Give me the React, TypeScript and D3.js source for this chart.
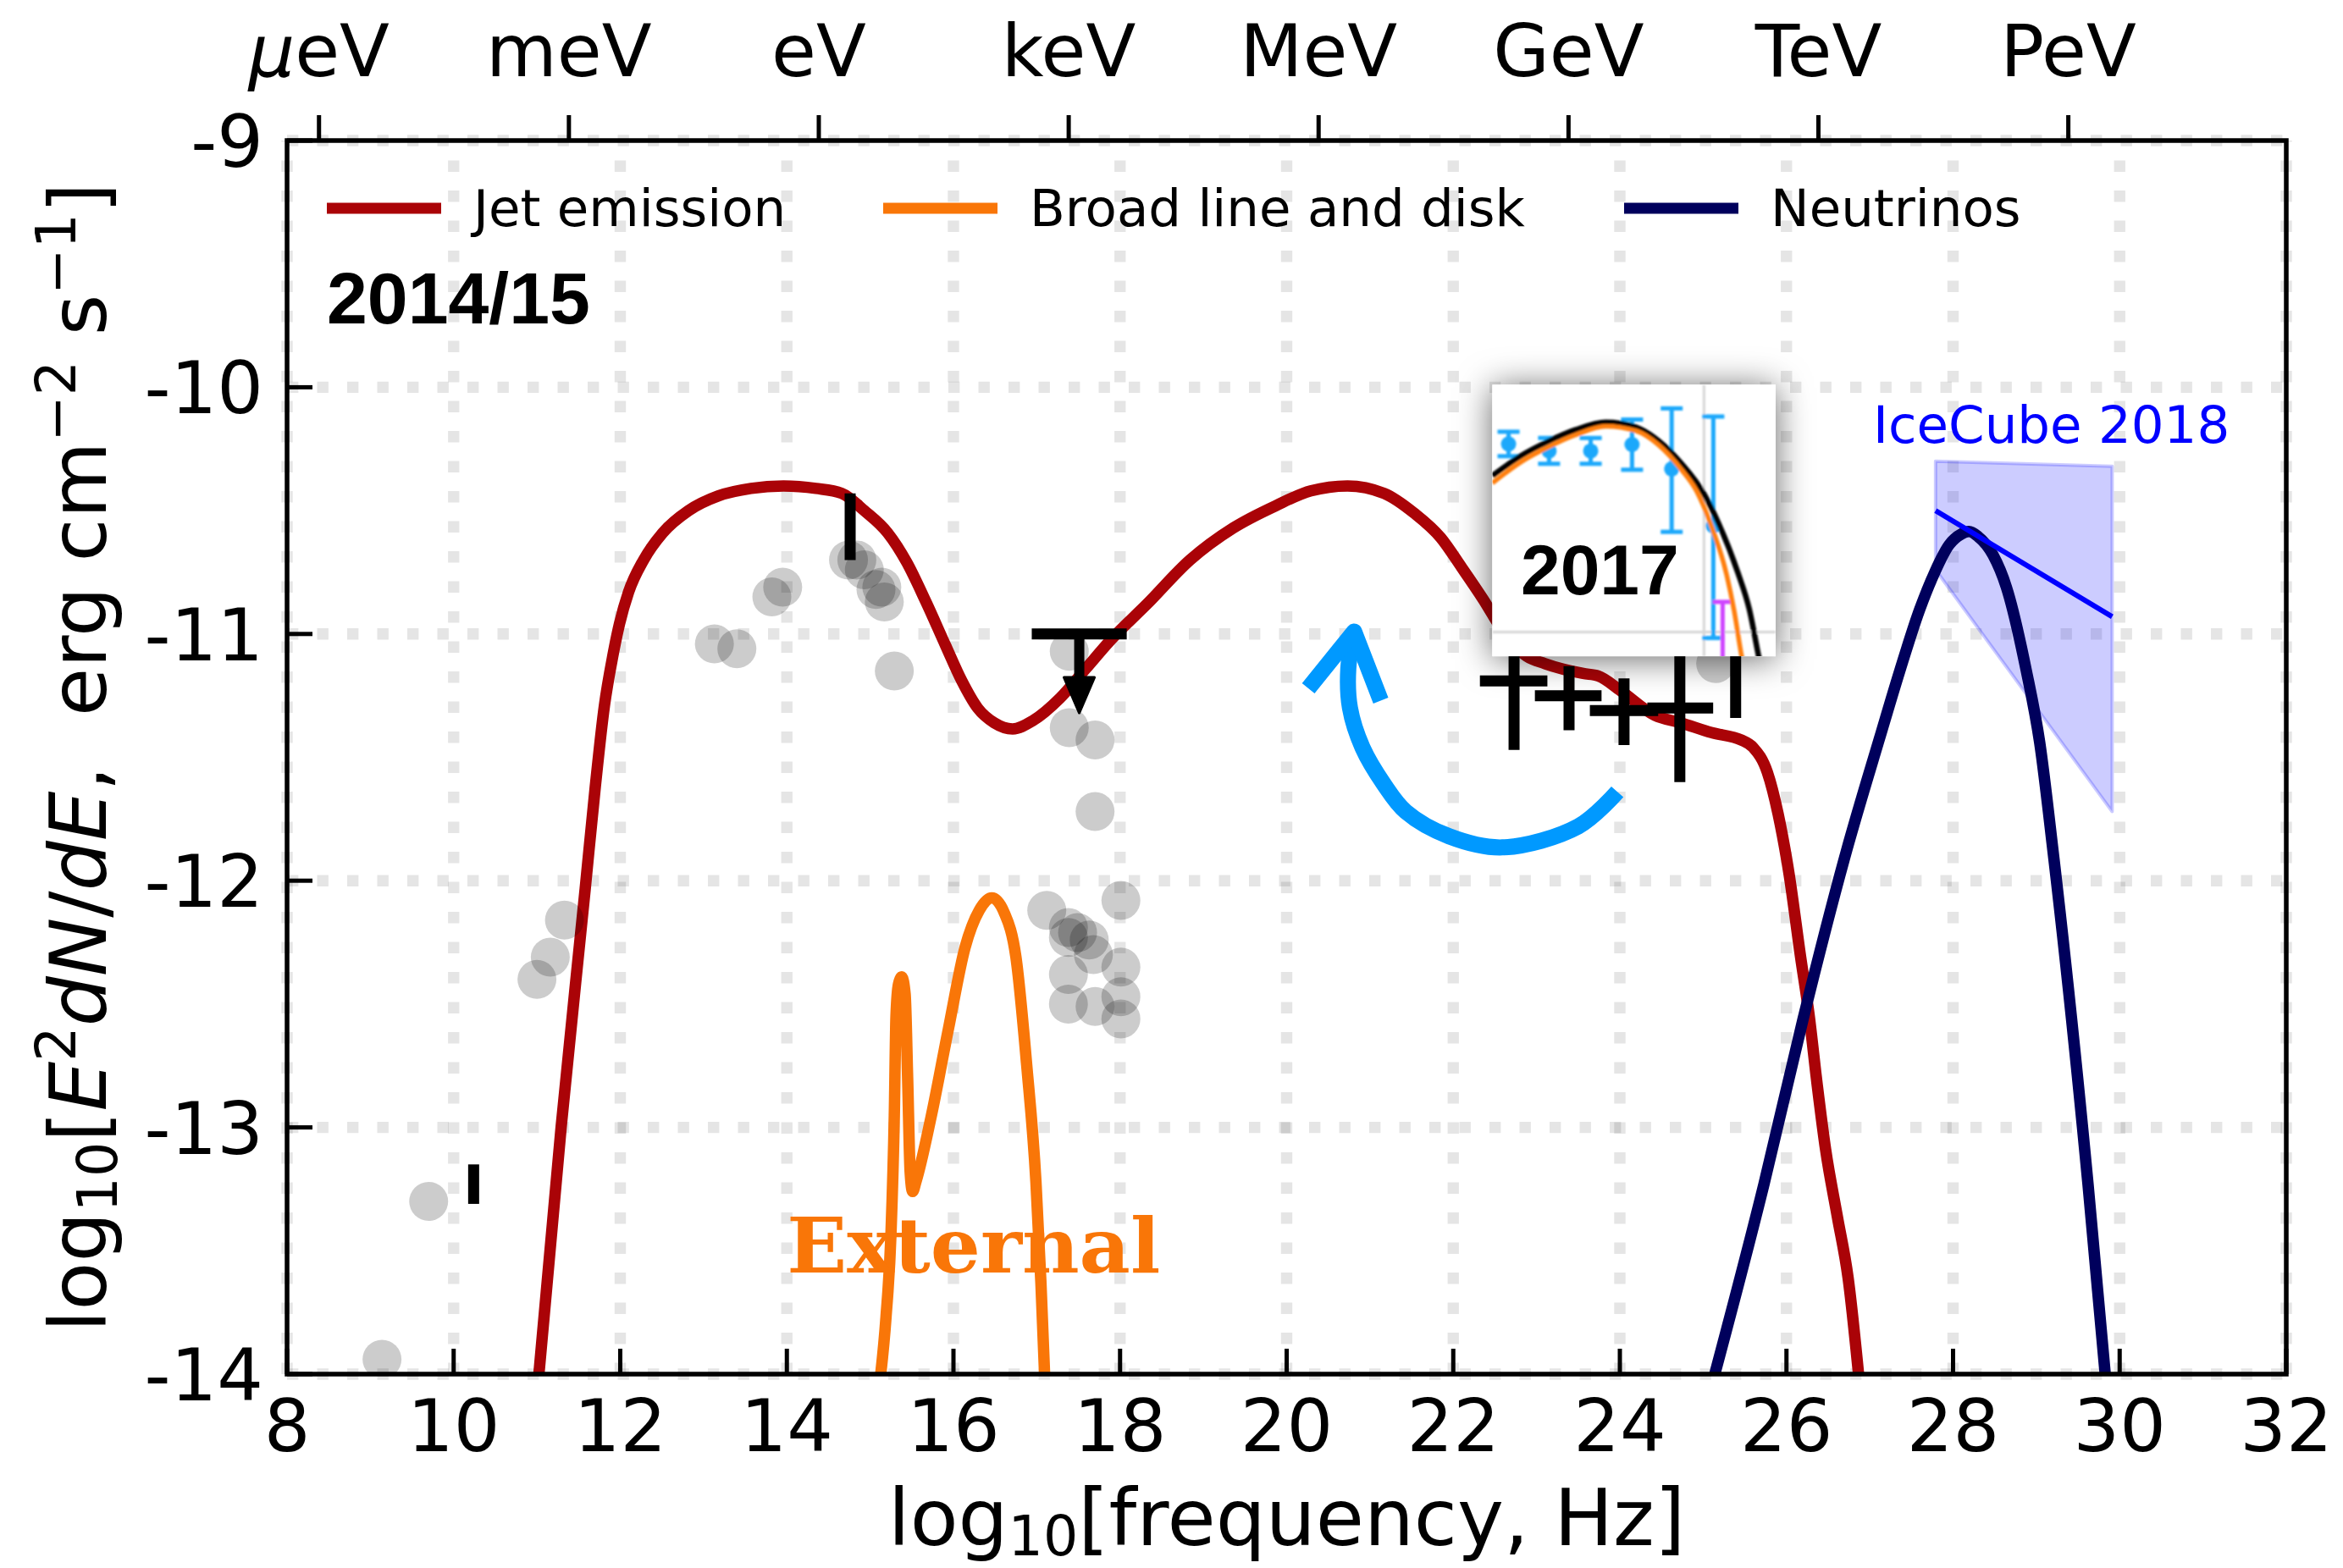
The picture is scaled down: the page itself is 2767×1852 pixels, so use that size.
import React from 'react';
import * as d3 from 'd3';

type P = [number, number];

// ---- axes ----
const xTicks = [8, 10, 12, 14, 16, 18, 20, 22, 24, 26, 28, 30, 32];
const yTicks = [-9, -10, -11, -12, -13, -14];
const energyLabels = ['µeV', 'meV', 'eV', 'keV', 'MeV', 'GeV', 'TeV', 'PeV'];
// log10 of the photon frequency (Hz) for 1 µeV, 1 meV, ... 1 PeV
const energyLog10Hz = [8.3835, 11.3835, 14.3835, 17.3835, 20.3835, 23.3835, 26.3835, 29.3835];

// ---- model curves (log10 nu, log10 nuFnu) ----
const jetEmission: P[] = [
  [11.01, -14.05], [11.29, -13.0], [11.58, -12.03], [11.7, -11.62], [11.81, -11.29],
  [11.91, -11.09], [11.99, -10.96], [12.1, -10.83], [12.28, -10.7], [12.51, -10.59],
  [12.82, -10.5], [13.18, -10.44], [13.57, -10.41], [13.96, -10.4], [14.35, -10.41],
  [14.66, -10.43], [14.93, -10.5], [15.21, -10.59], [15.44, -10.71], [15.67, -10.87],
  [15.91, -11.05], [16.1, -11.19], [16.29, -11.3], [16.49, -11.36], [16.71, -11.385],
  [16.96, -11.35], [17.28, -11.26], [17.59, -11.14], [17.9, -11.02], [18.32, -10.88],
  [18.84, -10.7], [19.36, -10.57], [19.87, -10.48], [20.29, -10.42], [20.73, -10.4],
  [21.17, -10.43], [21.53, -10.51], [21.85, -10.61], [22.1, -10.73], [22.36, -10.86],
  [22.6, -10.99], [22.88, -11.09], [23.1, -11.12], [23.56, -11.16], [23.74, -11.17],
  [24.01, -11.23], [24.42, -11.33], [24.73, -11.36], [25.1, -11.4], [25.46, -11.43],
  [25.6, -11.46], [25.77, -11.56], [25.9, -11.73], [26.03, -11.97], [26.17, -12.31],
  [26.27, -12.54], [26.37, -12.83], [26.47, -13.09], [26.61, -13.36], [26.74, -13.61],
  [26.88, -14.05],
];

const broadLineDisk: P[] = [
  [15.11, -14.05], [15.19, -13.77], [15.25, -13.43], [15.29, -12.95], [15.31, -12.55],
  [15.34, -12.42], [15.38, -12.39], [15.42, -12.46], [15.45, -12.8], [15.48, -13.18],
  [15.51, -13.26], [15.55, -13.22], [15.73, -12.96], [15.94, -12.6], [16.14, -12.27],
  [16.31, -12.12], [16.46, -12.07], [16.61, -12.13], [16.75, -12.31], [16.88, -12.75],
  [16.99, -13.22], [17.05, -13.63], [17.1, -14.05],
];

const neutrinos: P[] = [
  [25.1, -14.05], [25.73, -13.23], [26.2, -12.56], [26.72, -11.88], [27.12, -11.42],
  [27.36, -11.15], [27.6, -10.9], [27.78, -10.75], [27.95, -10.64], [28.1, -10.595],
  [28.19, -10.585], [28.3, -10.605], [28.48, -10.68], [28.64, -10.81], [28.88, -11.15],
  [29.04, -11.44], [29.2, -11.88], [29.62, -13.23], [29.84, -14.05],
];

// ---- archival 2014/15 data ----
const archivalPoints: P[] = [
  [9.14, -13.94], [9.7, -13.3], [11.0, -12.4], [11.16, -12.31], [11.33, -12.16],
  [13.13, -11.04], [13.4, -11.06], [13.82, -10.85], [13.95, -10.81], [14.74, -10.7],
  [14.84, -10.7], [14.93, -10.74], [15.07, -10.82], [15.14, -10.81], [15.17, -10.87],
  [15.29, -11.15], [17.39, -11.07], [17.39, -11.38], [17.7, -11.43], [17.7, -11.72],
  [17.12, -12.12], [17.38, -12.19], [17.38, -12.23], [17.49, -12.21], [17.63, -12.24],
  [17.68, -12.3], [17.38, -12.38], [17.38, -12.5], [17.7, -12.51], [18.01, -12.08],
  [18.01, -12.35], [18.01, -12.47], [18.01, -12.56], [25.15, -11.12],
];

// vertical-only error bars: [x, yLow, yHigh]
const singleBars: [number, number, number][] = [
  [10.24, -13.31, -13.15],
  [14.76, -10.7, -10.43],
  [25.39, -11.34, -10.95],
];

// gamma-ray points with errors: [x, y, xLow, xHigh, yLow, yHigh]
const gammaPoints: [number, number, number, number, number, number][] = [
  [22.73, -11.19, 22.32, 23.13, -11.47, -10.95],
  [23.39, -11.25, 22.98, 23.78, -11.39, -11.13],
  [24.05, -11.31, 23.64, 24.46, -11.45, -11.18],
  [24.72, -11.3, 24.33, 25.12, -11.6, -10.95],
];

// X-ray upper limit: [x, y, xLow, xHigh, arrow tip y]
const upperLimit: [number, number, number, number, number] = [17.51, -11.0, 16.94, 18.08, -11.32];

// IceCube 2018 fit and band
const iceCubeFit: P[] = [[27.79, -10.5], [29.91, -10.93]];
const iceCubeBandUpper: P[] = [[27.79, -10.3], [29.91, -10.32]];
const iceCubeBandLower: P[] = [[27.79, -10.74], [29.91, -11.72]];

// curved arrow pointing from the gamma data to the 2017 panel
const arrowArc: P[] = [
  [23.97, -11.64], [23.5, -11.78], [22.59, -11.865], [21.95, -11.82], [21.43, -11.72],
  [21.17, -11.61], [20.91, -11.46], [20.76, -11.3], [20.74, -11.14], [20.81, -10.99],
];
const arrowHead: P[] = [[20.26, -11.22], [20.81, -10.99], [21.13, -11.27]];

// ---- 2017 panel (unit box coordinates) ----
const panelBlack: P[] = [
  [0, 0.335], [0.1, 0.262], [0.2, 0.207], [0.293, 0.166], [0.4, 0.138], [0.507, 0.156],
  [0.587, 0.207], [0.667, 0.29], [0.747, 0.402], [0.8, 0.514], [0.867, 0.693],
  [0.907, 0.827], [0.94, 1.0], [0.96, 1.1],
];
const panelOrange: P[] = [
  [0, 0.362], [0.1, 0.285], [0.2, 0.228], [0.293, 0.185], [0.4, 0.153], [0.507, 0.17],
  [0.587, 0.222], [0.667, 0.312], [0.72, 0.39], [0.773, 0.52], [0.827, 0.7],
  [0.853, 0.83], [0.88, 1.0], [0.9, 1.1],
];
// [u, v, vTop, vBottom]
const panelBlueBars: [number, number, number, number][] = [
  [0.057, 0.218, 0.173, 0.263],
  [0.2, 0.244, 0.196, 0.291],
  [0.347, 0.244, 0.196, 0.291],
  [0.493, 0.22, 0.128, 0.313],
  [0.633, 0.31, 0.087, 0.542],
  [0.78, 0.52, 0.117, 0.933],
];
const panelMagenta: [number, number, number] = [0.813, 0.8, 1.05];

const RED = '#aa0307';
const ORANGE = '#f97608';
const NAVY = '#00005c';
const ARROW_BLUE = '#0099ff';
const PANEL_BLUE = '#1ba8fb';
const FONT = 'DejaVu Sans';

export default function App() {
  const W = 2767;
  const H = 1852;
  const left = 339, right = 2700, top = 166, bottom = 1623;

  const x = d3.scaleLinear().domain([8, 32]).range([left, right]);
  const y = d3.scaleLinear().domain([-14, -9]).range([bottom, top]);

  const smooth = d3.line<P>().x(d => x(d[0])).y(d => y(d[1])).curve(d3.curveMonotoneX);
  const straight = d3.line<P>().x(d => x(d[0])).y(d => y(d[1]));
  const arc = d3.line<P>().x(d => x(d[0])).y(d => y(d[1])).curve(d3.curveCatmullRom.alpha(0.5));

  const band = d3.area<number>()
    .x(i => x(iceCubeBandUpper[i][0]))
    .y0(i => y(iceCubeBandLower[i][1]))
    .y1(i => y(iceCubeBandUpper[i][1]));

  // 2017 panel box
  const px0 = x(22.47), px1 = x(25.87), py0 = y(-9.99), py1 = y(-11.09);
  const u = d3.scaleLinear().domain([0, 1]).range([px0, px1]);
  const v = d3.scaleLinear().domain([0, 1]).range([py0, py1]);
  const panelLine = d3.line<P>().x(d => u(d[0])).y(d => v(d[1])).curve(d3.curveMonotoneX);

  const gridStyle = { stroke: '#000', strokeOpacity: 0.1, strokeWidth: 13.4, strokeDasharray: '13.4 22.1' };
  const lw = 13.5;

  const legendItems = [
    { label: 'Jet emission', color: RED, x0: 386 },
    { label: 'Broad line and disk', color: ORANGE, x0: 1043 },
    { label: 'Neutrinos', color: NAVY, x0: 1918 },
  ];

  const [ulx, uly, ulx0, ulx1, ulTip] = upperLimit;

  return (
    <svg width={W} height={H} viewBox={`0 0 ${W} ${H}`}
      style={{ position: 'absolute', left: 0, top: 0, display: 'block', background: '#fff' }}
      fontFamily={FONT}>
      <defs>
        <clipPath id="plotArea">
          <rect x={left} y={top} width={right - left} height={bottom - top} />
        </clipPath>
        <clipPath id="panelArea">
          <rect x={px0} y={py0} width={px1 - px0} height={py1 - py0} />
        </clipPath>
        <filter id="panelShadow" x="-40%" y="-40%" width="180%" height="180%">
          <feDropShadow dx="0" dy="3" stdDeviation="20" floodColor="#000" floodOpacity="0.6" />
        </filter>
        <filter id="soft" x="-10%" y="-10%" width="120%" height="120%">
          <feGaussianBlur stdDeviation="1.3" />
        </filter>
      </defs>

      <rect x={0} y={0} width={W} height={H} fill="#fff" />

      {/* grid */}
      <g>
        {xTicks.map(t => (
          <line key={`gx${t}`} x1={x(t)} x2={x(t)} y1={bottom} y2={top} style={gridStyle} />
        ))}
        {yTicks.map(t => (
          <line key={`gy${t}`} x1={left} x2={right} y1={y(t)} y2={y(t)} style={gridStyle} />
        ))}
      </g>

      <g clipPath="url(#plotArea)">
        {/* IceCube band */}
        <path d={band([0, 1]) || ''} fill="#0000ff" fillOpacity={0.2}
          stroke="#0000ff" strokeOpacity={0.2} strokeWidth={4} strokeLinejoin="round" />

        {/* model curves */}
        <path d={smooth(jetEmission) || ''} fill="none" stroke={RED} strokeWidth={lw} strokeLinejoin="round" />
        <path d={smooth(broadLineDisk) || ''} fill="none" stroke={ORANGE} strokeWidth={lw} strokeLinejoin="round" />
        <path d={smooth(neutrinos) || ''} fill="none" stroke={NAVY} strokeWidth={lw} strokeLinejoin="round" />

        {/* IceCube fit */}
        <path d={straight(iceCubeFit) || ''} fill="none" stroke="#0000ff" strokeWidth={6} />

        {/* archival data */}
        {archivalPoints.map((p, i) => (
          <circle key={`a${i}`} cx={x(p[0])} cy={y(p[1])} r={23} fill="#000" fillOpacity={0.2} />
        ))}

        {singleBars.map((b, i) => (
          <line key={`b${i}`} x1={x(b[0])} x2={x(b[0])} y1={y(b[1])} y2={y(b[2])} stroke="#000" strokeWidth={13} />
        ))}

        {gammaPoints.map((g, i) => (
          <g key={`g${i}`} stroke="#000" strokeWidth={13}>
            <line x1={x(g[2])} x2={x(g[3])} y1={y(g[1])} y2={y(g[1])} />
            <line x1={x(g[0])} x2={x(g[0])} y1={y(g[4])} y2={y(g[5])} />
          </g>
        ))}

        {/* upper limit */}
        <g>
          <line x1={x(ulx0)} x2={x(ulx1)} y1={y(uly)} y2={y(uly)} stroke="#000" strokeWidth={13} />
          <line x1={x(ulx)} x2={x(ulx)} y1={y(uly)} y2={y(ulTip) - 40} stroke="#000" strokeWidth={12} />
          <path d={`M${x(ulx) - 18},${y(ulTip) - 42} L${x(ulx) + 18},${y(ulTip) - 42} L${x(ulx)},${y(ulTip)} Z`}
            fill="#000" stroke="#000" strokeWidth={3} strokeLinejoin="round" />
        </g>

        {/* curved arrow */}
        <path d={arc(arrowArc) || ''} fill="none" stroke={ARROW_BLUE} strokeWidth={19} />
        <path d={straight(arrowHead) || ''} fill="none" stroke={ARROW_BLUE} strokeWidth={19} strokeLinejoin="round" />
      </g>

      {/* 2017 panel */}
      <g>
        <rect x={px0} y={py0} width={px1 - px0} height={py1 - py0} fill="#fff" filter="url(#panelShadow)" />
        <rect x={px0} y={py0} width={px1 - px0} height={py1 - py0} fill="#fff" />
        <g clipPath="url(#panelArea)">
          <g filter="url(#soft)">
            <line x1={u(0.747)} x2={u(0.747)} y1={v(0)} y2={v(1)} stroke="#d6d6d6" strokeWidth={3} />
            <line x1={u(0)} x2={u(1)} y1={v(0.911)} y2={v(0.911)} stroke="#d6d6d6" strokeWidth={3} />
            {panelBlueBars.map((b, i) => (
              <g key={`pb${i}`} stroke={PANEL_BLUE} strokeWidth={5}>
                <line x1={u(b[0])} x2={u(b[0])} y1={v(b[2])} y2={v(b[3])} />
                <line x1={u(b[0]) - 13} x2={u(b[0]) + 13} y1={v(b[2])} y2={v(b[2])} />
                <line x1={u(b[0]) - 13} x2={u(b[0]) + 13} y1={v(b[3])} y2={v(b[3])} />
                <circle cx={u(b[0])} cy={v(b[1])} r={9} fill={PANEL_BLUE} stroke="none" />
              </g>
            ))}
            <g stroke="#cf45ff" strokeWidth={5}>
              <line x1={u(panelMagenta[0])} x2={u(panelMagenta[0])} y1={v(panelMagenta[1])} y2={v(panelMagenta[2])} />
              <line x1={u(panelMagenta[0]) - 12} x2={u(panelMagenta[0]) + 12} y1={v(panelMagenta[1])} y2={v(panelMagenta[1])} />
            </g>
            <path d={panelLine(panelBlack) || ''} fill="none" stroke="#000" strokeWidth={6.5} />
            <path d={panelLine(panelOrange) || ''} fill="none" stroke="#ff7f0e" strokeWidth={5.5} />
          </g>
          <text x={u(0.1)} y={v(0.771)} fontFamily="Liberation Sans" fontWeight="bold" fontSize={84}>2017</text>
        </g>
      </g>

      {/* frame */}
      <rect x={left} y={top} width={right - left} height={bottom - top} fill="none" stroke="#000" strokeWidth={5.5} />

      {/* ticks */}
      <g stroke="#000" strokeWidth={5}>
        {xTicks.map(t => (
          <line key={`tx${t}`} x1={x(t)} x2={x(t)} y1={bottom} y2={bottom - 30} />
        ))}
        {yTicks.map(t => (
          <line key={`ty${t}`} x1={left} x2={left + 30} y1={y(t)} y2={y(t)} />
        ))}
        {energyLog10Hz.map(t => (
          <line key={`te${t}`} x1={x(t)} x2={x(t)} y1={top} y2={top - 30} />
        ))}
      </g>

      {/* tick labels */}
      <g fontSize={86} fill="#000">
        {xTicks.map(t => (
          <text key={`lx${t}`} x={x(t)} y={1714} textAnchor="middle">{String(t)}</text>
        ))}
        {yTicks.map(t => (
          <text key={`ly${t}`} x={311} y={y(t) + 31} textAnchor="end">{String(t)}</text>
        ))}
        {energyLabels.map((lab, i) => (
          <text key={`le${i}`} x={x(energyLog10Hz[i])} y={90} textAnchor="middle">
            {lab.startsWith('µ')
              ? <><tspan fontStyle="italic">µ</tspan>{lab.slice(1)}</>
              : lab}
          </text>
        ))}
      </g>

      {/* axis labels */}
      <text x={(left + right) / 2} y={1825} textAnchor="middle" fontSize={93}>
        log<tspan fontSize={65} dy={12}>10</tspan><tspan dy={-12}>[frequency, Hz]</tspan>
      </text>
      <text transform={`translate(125,${(top + bottom) / 2}) rotate(-90)`} textAnchor="middle"
        fontSize={93} style={{ whiteSpace: 'pre' }}>
        log<tspan fontSize={65} dy={13}>10</tspan><tspan dy={-13}>[</tspan><tspan fontStyle="italic">E</tspan><tspan fontSize={65} dy={-36}>2</tspan><tspan dy={36} fontStyle="italic">dN</tspan><tspan>/</tspan><tspan fontStyle="italic">dE</tspan><tspan>{',  erg cm'}</tspan><tspan fontSize={65} dy={-36}>{'−2'}</tspan><tspan dy={36}>{' s'}</tspan><tspan fontSize={65} dy={-36}>{'−1'}</tspan><tspan dy={36}>]</tspan>
      </text>

      {/* legend */}
      <g>
        {legendItems.map(it => (
          <g key={it.label}>
            <line x1={it.x0} x2={it.x0 + 135} y1={246} y2={246} stroke={it.color} strokeWidth={13} />
            <text x={it.x0 + 173} y={267} fontSize={61}>{it.label}</text>
          </g>
        ))}
      </g>

      {/* annotations */}
      <text x={386} y={382} fontFamily="Liberation Sans" fontWeight="bold" fontSize={86}>2014/15</text>
      <text x={x(14.0)} y={y(-13.587)} fontFamily="DejaVu Serif" fontWeight="bold" fontSize={90}
        fill={ORANGE} textLength={441} lengthAdjust="spacingAndGlyphs">External</text>
      <text x={x(27.04)} y={y(-10.225)} fontSize={61} fill="#0000ff">IceCube 2018</text>
    </svg>
  );
}
